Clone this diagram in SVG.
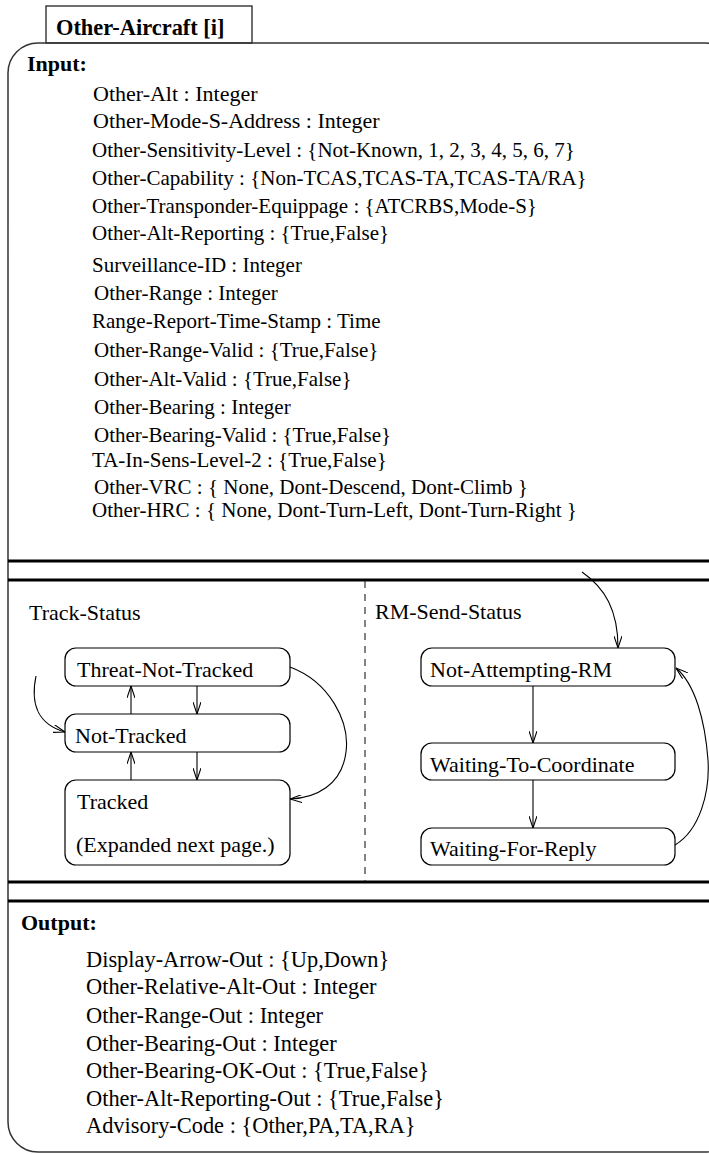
<svg xmlns="http://www.w3.org/2000/svg" width="709" height="1154" viewBox="0 0 709 1154">
<style>
text{font-family:"Liberation Serif","Times New Roman",serif;font-size:22px;fill:#000}
.b{font-weight:bold}
.t{font-weight:bold;font-size:22.4px}
.s{font-size:21px}
.o{font-size:22.4px}
.frame{fill:none;stroke:#333;stroke-width:1.5}
.sep{stroke:#000;stroke-width:3.2}
.state{fill:#fff;stroke:#000;stroke-width:1.2}
.conn{fill:none;stroke:#000;stroke-width:1.1}
</style>
<defs>
<marker id="arr" markerUnits="userSpaceOnUse" viewBox="0 0 12 8" refX="12" refY="4" markerWidth="12" markerHeight="8" orient="auto">
<path d="M0,0 L12,4 L0,8" fill="none" stroke="#000" stroke-width="1.1"/>
</marker>
</defs>
<rect width="709" height="1154" fill="#fff"/>
<g id="frame">
<rect x="46" y="6" width="206" height="37" fill="#fff" stroke="#222" stroke-width="1.3"/>
<text class="t" x="56" y="35">Other-Aircraft [i]</text>
<rect class="frame" x="8" y="43" width="727" height="1109" rx="30" ry="30"/>
<line class="sep" x1="8" y1="561" x2="709" y2="561"/>
<line class="sep" x1="8" y1="580" x2="709" y2="580"/>
<line class="sep" x1="8" y1="882" x2="709" y2="882"/>
<line class="sep" x1="8" y1="901" x2="709" y2="901"/>
<line x1="365" y1="581" x2="365" y2="881" stroke="#333" stroke-width="1.2" stroke-dasharray="7,6"/>
</g>
<g id="input">
<text class="b" x="27" y="71">Input:</text>
<text x="93" y="101">Other-Alt : Integer</text>
<text x="93" y="128">Other-Mode-S-Address : Integer</text>
<text class="s" x="92" y="157">Other-Sensitivity-Level : {Not-Known, 1, 2, 3, 4, 5, 6, 7}</text>
<text class="s" x="92" y="185">Other-Capability : {Non-TCAS,TCAS-TA,TCAS-TA/RA}</text>
<text class="s" x="92" y="213">Other-Transponder-Equippage : {ATCRBS,Mode-S}</text>
<text class="s" x="92" y="240">Other-Alt-Reporting : {True,False}</text>
<text class="s" x="92" y="272">Surveillance-ID : Integer</text>
<text class="s" x="94" y="300">Other-Range : Integer</text>
<text class="s" x="92" y="328">Range-Report-Time-Stamp : Time</text>
<text class="s" x="94" y="357">Other-Range-Valid : {True,False}</text>
<text class="s" x="94" y="386">Other-Alt-Valid : {True,False}</text>
<text class="s" x="94" y="414">Other-Bearing : Integer</text>
<text class="s" x="94" y="442">Other-Bearing-Valid : {True,False}</text>
<text class="s" x="92" y="467">TA-In-Sens-Level-2 : {True,False}</text>
<text class="s" x="94" y="494">Other-VRC : { None, Dont-Descend, Dont-Climb }</text>
<text class="s" x="92" y="517">Other-HRC : { None, Dont-Turn-Left, Dont-Turn-Right }</text>
</g>
<g id="track-status">
<text x="29" y="620">Track-Status</text>
</g>
<g id="rm-send-status">
<text x="375" y="619">RM-Send-Status</text>
</g>
<g id="threat-not-tracked">
<rect class="state" x="65" y="648" width="225" height="38" rx="11"/>
<text x="77" y="677">Threat-Not-Tracked</text>
</g>
<g id="not-tracked">
<rect class="state" x="65" y="714" width="225" height="38" rx="11"/>
<text x="75" y="743">Not-Tracked</text>
</g>
<g id="tracked">
<rect class="state" x="65" y="780" width="225" height="85" rx="11"/>
<text x="77" y="809">Tracked</text>
<text x="76" y="852">(Expanded next page.)</text>
</g>
<g id="not-attempting-rm">
<rect class="state" x="421" y="648" width="254" height="38" rx="11"/>
<text x="430" y="677">Not-Attempting-RM</text>
</g>
<g id="waiting-to-coordinate">
<rect class="state" x="421" y="743" width="254" height="37" rx="11"/>
<text x="430" y="772">Waiting-To-Coordinate</text>
</g>
<g id="waiting-for-reply">
<rect class="state" x="421" y="828" width="254" height="37" rx="11"/>
<text x="430" y="856">Waiting-For-Reply</text>
</g>
<g id="connectors">
<path class="conn" d="M131,714 L131,686" marker-end="url(#arr)"/>
<path class="conn" d="M197,686 L197,714" marker-end="url(#arr)"/>
<path class="conn" d="M131,780 L131,752" marker-end="url(#arr)"/>
<path class="conn" d="M197,752 L197,780" marker-end="url(#arr)"/>
<path class="conn" d="M36,676 C30,705 38,724 65,732" marker-end="url(#arr)"/>
<path class="conn" d="M290,667 C330,682 350,722 346,752 C342,785 316,798 290,799" marker-end="url(#arr)"/>
<path class="conn" d="M582,572 C605,588 618,610 618,648" marker-end="url(#arr)"/>
<path class="conn" d="M533,686 L533,743" marker-end="url(#arr)"/>
<path class="conn" d="M533,780 L533,828" marker-end="url(#arr)"/>
<path class="conn" d="M675,845 C700,830 710,792 708,760 C705,720 695,684 676,668" marker-end="url(#arr)"/>
</g>
<g id="output">
<text class="b" x="21" y="930">Output:</text>
<text class="o" x="86" y="967">Display-Arrow-Out : {Up,Down}</text>
<text class="o" x="86" y="994">Other-Relative-Alt-Out : Integer</text>
<text class="o" x="86" y="1023">Other-Range-Out : Integer</text>
<text class="o" x="86" y="1051">Other-Bearing-Out : Integer</text>
<text class="o" x="86" y="1078">Other-Bearing-OK-Out : {True,False}</text>
<text class="o" x="86" y="1106">Other-Alt-Reporting-Out : {True,False}</text>
<text class="o" x="86" y="1133">Advisory-Code : {Other,PA,TA,RA}</text>
</g>
</svg>
